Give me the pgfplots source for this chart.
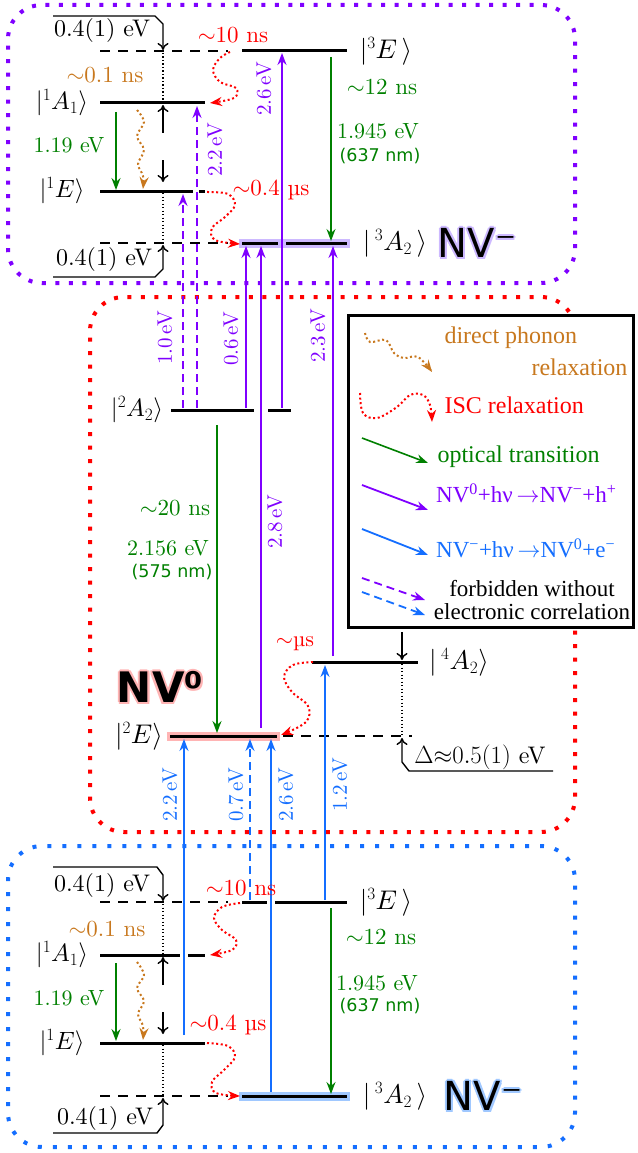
\documentclass[border=0pt]{standalone}
\usepackage{pgfplots}
\pgfplotsset{compat=1.18}
\usepackage{fontspec}
\usetikzlibrary{arrows.meta}
\setmainfont{lmroman10-regular.otf}[BoldFont=lmroman10-bold.otf, ItalicFont=lmroman10-italic.otf]
\DeclareFontFamily{OML}{cmm}{\skewchar\font'177}
\DeclareFontShape{OML}{cmm}{m}{it}{<->cmmi10}{}
\DeclareFontFamily{OMS}{cmsy}{\skewchar\font'60}
\DeclareFontShape{OMS}{cmsy}{m}{n}{<->cmsy10}{}
\newfontfamily\djv{DejaVu Sans}
\newfontfamily\lser{Liberation Serif}
\newcommand\fs[1]{\fontsize{#1}{#1}\selectfont}
\definecolor{pur}{RGB}{127,0,255}
\definecolor{rd}{RGB}{255,0,0}
\definecolor{blu}{RGB}{20,110,255}
\definecolor{grn}{RGB}{0,128,0}
\definecolor{org}{RGB}{200,120,30}
\definecolor{purglow}{RGB}{205,185,255}
\definecolor{pinkglow}{RGB}{255,180,180}
\definecolor{bluglow}{RGB}{160,200,255}
\tikzset{
 lev/.style={black, line width=3pt},
 dlev/.style={black, line width=1.6pt, dash pattern=on 10pt off 8pt},
 dotv/.style={black, line width=1.3pt, dash pattern=on 1.3pt off 2.2pt},
 barr/.style={black, line width=1.4pt, -{To[length=7pt,width=11pt]}},
 carr/.style={line width=1.8pt, -{Stealth[length=12pt,width=9pt,inset=4pt]}},
 darr/.style={carr, dash pattern=on 8pt off 5pt},
 wav/.style={line width=2pt, dash pattern=on 2pt off 2.6pt, smooth, tension=0.6, -{Stealth[length=12pt,width=9pt,inset=4pt]}},
}
\newcommand\glowtxt[4]{%
\node[text=#3,xshift=2pt] at (axis cs:#1,#2) {#4};
\node[text=#3,xshift=-2pt] at (axis cs:#1,#2) {#4};
\node[text=#3,yshift=2pt] at (axis cs:#1,#2) {#4};
\node[text=#3,yshift=-2pt] at (axis cs:#1,#2) {#4};
\node[text=#3,xshift=1.5pt,yshift=1.5pt] at (axis cs:#1,#2) {#4};
\node[text=#3,xshift=-1.5pt,yshift=1.5pt] at (axis cs:#1,#2) {#4};
\node[text=#3,xshift=1.5pt,yshift=-1.5pt] at (axis cs:#1,#2) {#4};
\node[text=#3,xshift=-1.5pt,yshift=-1.5pt] at (axis cs:#1,#2) {#4};
\node at (axis cs:#1,#2) {#4};}
\begin{document}
\begin{tikzpicture}
\useasboundingbox (0,0) rectangle (637pt,1153pt);
\begin{axis}[at={(0,0)}, anchor=south west, scale only axis, width=637pt, height=1153pt,
 xmin=0, xmax=637, ymin=0, ymax=1153, y dir=reverse, axis lines=none, clip=false, no markers]
% boxes
\addplot[pur, line width=4pt, dash pattern=on 4pt off 9.5pt, rounded corners=34pt] coordinates {(300,5)(575,5)(575,283)(8,283)(8,5)(300,5)};
\addplot[rd, line width=4pt, dash pattern=on 4pt off 9.5pt, rounded corners=34pt] coordinates {(300,297)(575,297)(575,832)(90,832)(90,297)(300,297)};
\addplot[blu, line width=4pt, dash pattern=on 4pt off 11pt, rounded corners=34pt] coordinates {(300,846)(575,846)(575,1147)(8,1147)(8,846)(300,846)};
\addplot[draw=black, fill=white, line width=3pt] coordinates {(348,315)(633,315)(633,627)(348,627)(348,315)(633,315)};
% ---- top NV- levels
\addplot[dlev] coordinates {(100,51)(228,51)};
\addplot[lev] coordinates {(242,51)(347,51)};
\addplot[lev] coordinates {(100,103)(205,103)};
\addplot[lev] coordinates {(100,191)(193,191)};
\addplot[lev] coordinates {(199,191)(205,191)};
\addplot[dlev] coordinates {(100,243)(228,243)};
\addplot[purglow, line width=9pt] coordinates {(239,243)(350,243)};
\addplot[lev] coordinates {(242,243)(278,243)};
\addplot[lev] coordinates {(286,243)(347,243)};
% ---- NV0 levels
\addplot[lev] coordinates {(171,410)(254,410)};
\addplot[lev] coordinates {(268,410)(291,410)};
\addplot[pinkglow, line width=9pt] coordinates {(167,736)(280,736)};
\addplot[lev] coordinates {(170,736)(277,736)};
\addplot[dlev] coordinates {(283,736)(412,736)};
\addplot[lev] coordinates {(312,662)(418,662)};
% ---- bottom NV- levels
\addplot[dlev] coordinates {(100,902)(228,902)};
\addplot[lev] coordinates {(242,902)(267,902)};
\addplot[lev] coordinates {(275,902)(347,902)};
\addplot[lev] coordinates {(100,955)(180,955)};
\addplot[lev] coordinates {(188,955)(205,955)};
\addplot[lev] coordinates {(100,1043)(205,1043)};
\addplot[dlev] coordinates {(100,1096)(228,1096)};
\addplot[bluglow, line width=9pt] coordinates {(239,1096)(350,1096)};
\addplot[lev] coordinates {(242,1096)(347,1096)};
% ---- black brackets and arrows
\addplot[barr] coordinates {(53,16)(155,16)(163,24)(163,50)};
\addplot[dotv] coordinates {(163,53)(163,102)};
\addplot[barr] coordinates {(163,133)(163,105)};
\addplot[barr] coordinates {(163,160)(163,182)};
\addplot[dotv] coordinates {(163,193)(163,242)};
\addplot[barr] coordinates {(53,277)(155,277)(163,269)(163,245)};
\addplot[barr] coordinates {(53,867)(157,867)(163,875)(163,901)};
\addplot[dotv] coordinates {(163,904)(163,954)};
\addplot[barr] coordinates {(163,985)(163,957)};
\addplot[barr] coordinates {(163,1012)(163,1034)};
\addplot[dotv] coordinates {(163,1045)(163,1095)};
\addplot[barr] coordinates {(53,1133)(157,1133)(163,1125)(163,1098)};
\addplot[barr] coordinates {(402,632)(402,660)};
\addplot[dotv] coordinates {(402,664)(402,735)};
\addplot[barr] coordinates {(553,771)(409,771)(402,762)(402,738)};
% ---- green optical
\addplot[carr, grn, line width=1.6pt] coordinates {(116,112)(116,190)};
\addplot[carr, grn, line width=1.6pt] coordinates {(331,57)(331,241)};
\addplot[carr, grn, line width=1.6pt] coordinates {(217,425)(217,733)};
\addplot[carr, grn, line width=1.6pt] coordinates {(116,963)(116,1041)};
\addplot[carr, grn, line width=1.6pt] coordinates {(331,908)(331,1094)};
% ---- purple
\addplot[carr, pur] coordinates {(246,408)(246,246)};
\addplot[carr, pur] coordinates {(261,728)(261,246)};
\addplot[carr, pur] coordinates {(282,408)(282,53)};
\addplot[carr, pur] coordinates {(333,656)(333,246)};
\addplot[darr, pur] coordinates {(183,408)(183,194)};
\addplot[darr, pur] coordinates {(197,408)(197,106)};
% ---- blue
\addplot[carr, blu] coordinates {(184,1035)(184,739)};
\addplot[darr, blu] coordinates {(250,900)(250,739)};
\addplot[carr, blu] coordinates {(271,1092)(271,739)};
\addplot[carr, blu] coordinates {(325,900)(325,665)};
% ---- wavy
\addplot[wav, rd] coordinates {(230,52)(220,58)(213,70)(220,82)(236,88)(234,98)(210,103)};
\addplot[wav, rd] coordinates {(207,192)(228,194)(235,205)(225,217)(212,228)(215,240)(240,244)};
\addplot[wav, rd] coordinates {(313,662)(293,665)(284,677)(292,692)(308,706)(306,722)(281,735)};
\addplot[wav, rd] coordinates {(240,903)(222,907)(214,918)(222,930)(236,940)(232,950)(210,955)};
\addplot[wav, rd] coordinates {(207,1043)(228,1046)(235,1057)(224,1070)(212,1082)(216,1093)(240,1096)};
\addplot[wav, org] coordinates {(137,110)(144,122)(137,136)(144,150)(138,164)(143,176)(143,189)};
\addplot[wav, org] coordinates {(137,962)(144,975)(137,988)(144,1001)(138,1014)(143,1026)(143,1040)};
% ---- legend symbols
\addplot[wav, org] coordinates {(365,333)(370,342)(386,340)(394,353)(404,358)(418,357)(432,372)};
\addplot[wav, rd] coordinates {(360,393)(363,413)(377,418)(397,407)(410,395)(423,395)(430,405)(432,422)};
\addplot[carr, grn, line width=1.6pt] coordinates {(362,438)(428,463)};
\addplot[carr, pur] coordinates {(362,485)(428,510)};
\addplot[carr, blu] coordinates {(362,529)(428,555)};
\addplot[darr, pur] coordinates {(362,578)(425,600)};
\addplot[darr, blu] coordinates {(362,592)(425,615)};
% ---- text: top box
\node[font=\fs{24}] at (axis cs:102,31) {0.4(1) eV};
\node[font=\fs{23}, text=rd] at (axis cs:233,35) {$\sim$10 ns};
\node[font=\fs{23}, text=org] at (axis cs:105,75) {$\sim$0.1 ns};
\node[font=\fs{25}] at (axis cs:62,103) {$|^1A_1\rangle$};
\node[font=\fs{22}, text=grn] at (axis cs:69,145) {1.19 eV};
\node[font=\fs{25}] at (axis cs:62,191) {$|^1E\rangle$};
\node[font=\fs{23}, text=rd] at (axis cs:271,190) {$\sim$0.4 µs};
\node[font=\fs{24}] at (axis cs:104,259) {0.4(1) eV};
\node[font=\fs{27}] at (axis cs:386,51) {$|^3E\,\rangle$};
\node[font=\fs{23}, text=grn] at (axis cs:382,87) {$\sim$12 ns};
\node[font=\fs{22}, text=grn] at (axis cs:378,131) {1.945 eV};
\node[font=\djv\fs{17.5}, text=grn] at (axis cs:380,156) {(637 nm)};
\node[font=\fs{27}] at (axis cs:395,243) {$|\,^3A_2\,\rangle$};
\glowtxt{477}{243}{purglow}{\djv\fs{40}NV⁻}
\node[font=\fs{21}, text=pur, rotate=90] at (axis cs:264,89) {2.6\,eV};
\node[font=\fs{21}, text=pur, rotate=90] at (axis cs:215,150) {2.2\,eV};
% ---- middle
\node[font=\fs{21}, text=pur, rotate=90] at (axis cs:165,338) {1.0\,eV};
\node[font=\fs{21}, text=pur, rotate=90] at (axis cs:231,339) {0.6\,eV};
\node[font=\fs{21}, text=pur, rotate=90] at (axis cs:318,336) {2.3\,eV};
\node[font=\fs{21}, text=pur, rotate=90] at (axis cs:275,522) {2.8\,eV};
\node[font=\fs{25}] at (axis cs:137,410) {$|^2A_2\rangle$};
\node[font=\fs{23}, text=grn] at (axis cs:175,508) {$\sim$20 ns};
\node[font=\fs{22}, text=grn] at (axis cs:168,548) {2.156 eV};
\node[font=\djv\fs{17.5}, text=grn] at (axis cs:172,572) {(575 nm)};
\glowtxt{160}{687}{pinkglow}{\djv\bfseries\fs{42}NV⁰}
\node[font=\fs{27}] at (axis cs:139,736) {$|^2E\rangle$};
\node[font=\fs{22}, text=rd] at (axis cs:295,644) {$\sim$µs};
\node[font=\fs{27}] at (axis cs:459,662) {$|\,^4A_2\rangle$};
\node[font=\fs{24}] at (axis cs:480,757) {$\Delta{\approx}0.5(1)$ eV};
\node[font=\fs{21}, text=blu, rotate=90] at (axis cs:170,795) {2.2\,eV};
\node[font=\fs{21}, text=blu, rotate=90] at (axis cs:236,795) {0.7\,eV};
\node[font=\fs{21}, text=blu, rotate=90] at (axis cs:286,795) {2.6\,eV};
\node[font=\fs{21}, text=blu, rotate=90] at (axis cs:340,785) {1.2\,eV};
% ---- bottom box
\node[font=\fs{24}] at (axis cs:102,885) {0.4(1) eV};
\node[font=\fs{23}, text=rd] at (axis cs:241,888) {$\sim$10 ns};
\node[font=\fs{23}, text=org] at (axis cs:107,929) {$\sim$0.1 ns};
\node[font=\fs{25}] at (axis cs:62,955) {$|^1A_1\rangle$};
\node[font=\fs{22}, text=grn] at (axis cs:69,998) {1.19 eV};
\node[font=\fs{25}] at (axis cs:62,1043) {$|^1E\rangle$};
\node[font=\fs{23}, text=rd] at (axis cs:228,1025) {$\sim$0.4 µs};
\node[font=\fs{24}] at (axis cs:105,1118) {0.4(1) eV};
\node[font=\fs{27}] at (axis cs:386,902) {$|^3E\,\rangle$};
\node[font=\fs{23}, text=grn] at (axis cs:381,937) {$\sim$12 ns};
\node[font=\fs{22}, text=grn] at (axis cs:377,983) {1.945 eV};
\node[font=\djv\fs{17.5}, text=grn] at (axis cs:380,1006) {(637 nm)};
\node[font=\fs{27}] at (axis cs:395,1096) {$|\,^3A_2\,\rangle$};
\glowtxt{483}{1096}{bluglow}{\djv\fs{40}NV⁻}
% ---- legend text
\node[font=\lser\fs{24}, text=org, anchor=west] at (axis cs:441,338) {direct phonon};
\node[font=\lser\fs{24}, text=org, anchor=east] at (axis cs:631,367) {relaxation};
\node[font=\lser\fs{24}, text=rd, anchor=west] at (axis cs:441,405) {ISC relaxation};
\node[font=\lser\fs{24}, text=grn, anchor=west] at (axis cs:434,457) {optical transition};
\node[font=\lser\fs{23}, text=pur, anchor=west, inner sep=0pt] at (axis cs:436,493) {NV\textsuperscript{0}+hν\,$\rightarrow$NV\textsuperscript{−}+h\textsuperscript{+}};
\node[font=\lser\fs{23}, text=blu, anchor=west, inner sep=0pt] at (axis cs:436,548) {NV\textsuperscript{−}+hν\,$\rightarrow$NV\textsuperscript{0}+e\textsuperscript{−}};
\node[font=\lser\fs{23}] at (axis cs:532,589) {forbidden without};
\node[font=\lser\fs{23}] at (axis cs:532,612) {electronic correlation};
\end{axis}
\end{tikzpicture}
\end{document}
